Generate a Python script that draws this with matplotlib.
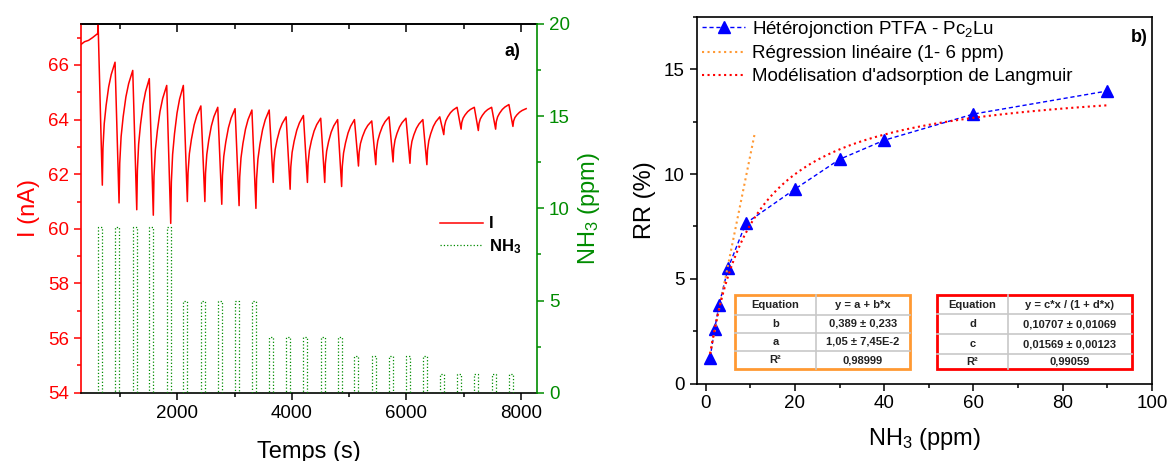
import matplotlib.pyplot as plt
import numpy as np
from matplotlib.lines import Line2D
from matplotlib.ticker import MultipleLocator

plt.rcParams['font.family'] = ['Liberation Sans', 'DejaVu Sans']
plt.rcParams['mathtext.fontset'] = 'custom'
plt.rcParams['mathtext.rm'] = 'Liberation Sans'
plt.rcParams['mathtext.it'] = 'Liberation Sans:italic'
plt.rcParams['mathtext.bf'] = 'Liberation Sans:bold'

# ---- a) current under NH3 pulses ----
# start of each NH3 pulse (s) and its concentration (ppm)
pulse_start = [621, 913, 1222, 1511, 1815, 2105, 2411, 2706, 3008, 3302,
               3604, 3899, 4201, 4503, 4798, 5092, 5394, 5696, 5991, 6286,
               6581, 6883, 7184, 7486, 7788]
pulse_ppm = [9, 9, 9, 9, 9, 5, 5, 5, 5, 5, 3, 3, 3, 3, 3,
             2, 2, 2, 2, 2, 1, 1, 1, 1, 1]
pulse_len = 70

# current just before each pulse and at the end of it (nA)
I_top = [67.2, 66.1, 65.8, 65.5, 65.25, 65.25, 64.5, 64.45, 64.4, 64.35,
         64.35, 64.1, 64.15, 64.05, 64.0, 64.0, 63.95, 64.1, 64.05, 64.0,
         64.1, 64.45, 64.45, 64.45, 64.55]
I_bottom = [61.6, 60.95, 60.7, 60.5, 60.2, 61.0, 61.0, 60.9, 60.85, 60.75,
            61.7, 61.45, 61.7, 61.7, 61.55, 62.3, 62.35, 62.45, 62.4, 62.35,
            63.45, 63.65, 63.6, 63.65, 63.75]
# before first pulse
t_before = [319, 380, 450, 520, 580, 610, 616]
I_before = [66.75, 66.85, 66.9, 67.0, 67.1, 67.15, 67.5]
t_end = 8089
I_end = 64.4
# recovery shape between pulses (fraction of time, fraction recovered)
rec_time = [0, 0.05, 0.15, 0.3, 0.5, 0.7, 0.85, 1.0]
rec_frac = [0, 0.3, 0.5, 0.65, 0.8, 0.9, 0.95, 1.0]

# ---- b) response vs concentration ----
conc = [1, 2, 3, 5, 9, 20, 30, 40, 60, 90]
rr = [1.24, 2.59, 3.74, 5.50, 7.65, 9.28, 10.70, 11.61, 12.86, 13.96]
lin_a = 0.389
lin_b = 1.05
lin_x = [1, 11]
lang_c = 0.01569
lang_d = 0.10707

lin_table = [['Equation', 'y = a + b*x'],
             ['b', '0,389 ± 0,233'],
             ['a', '1,05 ± 7,45E-2'],
             ['R²', '0,98999']]
lang_table = [['Equation', 'y = c*x / (1 + d*x)'],
              ['d', '0,10707 ± 0,01069'],
              ['c', '0,01569 ± 0,00123'],
              ['R²', '0,99059']]

RED = '#ff0000'
GREEN = '#008c00'
ORANGE = '#ff9933'

fig = plt.figure(figsize=(11.69, 4.61), dpi=100)

# build current trace
t_I = list(t_before)
I = list(I_before)
for k in range(len(pulse_start)):
    s = pulse_start[k]
    e = s + pulse_len
    t_I += [s, e]
    I += [I_top[k], I_bottom[k]]
    if k + 1 < len(pulse_start):
        nt, nI = pulse_start[k + 1], I_top[k + 1]
    else:
        nt, nI = t_end, I_end
    for f, r in zip(rec_time[1:-1], rec_frac[1:-1]):
        t_I.append(e + f * (nt - e))
        I.append(I_bottom[k] + r * (nI - I_bottom[k]))
t_I.append(t_end)
I.append(I_end)

# NH3 steps
t_N = [319]
c_N = [0]
for s, c in zip(pulse_start, pulse_ppm):
    t_N += [s, s, s + pulse_len, s + pulse_len]
    c_N += [0, c, c, 0]
t_N.append(8283)
c_N.append(0)

ax1 = fig.add_axes([0.0693, 0.148, 0.3903, 0.800])
ax2 = ax1.twinx()
ax1.plot(t_I, I, color=RED, lw=1.1, label='I')
ax2.plot(t_N, c_N, color=GREEN, lw=0.9, ls=':', label='NH$_\\mathregular{3}$')

ax1.set_xlim(319, 8283)
ax1.set_ylim(54, 67.5)
ax2.set_ylim(0, 20)
ax1.xaxis.set_major_locator(MultipleLocator(2000))
ax1.xaxis.set_minor_locator(MultipleLocator(1000))
ax1.yaxis.set_major_locator(MultipleLocator(2))
ax1.yaxis.set_minor_locator(MultipleLocator(1))
ax2.yaxis.set_major_locator(MultipleLocator(5))
ax2.yaxis.set_minor_locator(MultipleLocator(2.5))

ax1.spines['left'].set_color(RED)
ax1.spines['right'].set_visible(False)
ax2.spines['left'].set_visible(False)
ax2.spines['top'].set_visible(False)
ax2.spines['bottom'].set_visible(False)
ax2.spines['right'].set_color(GREEN)
for sp in ax1.spines.values():
    sp.set_linewidth(1.2)
ax2.spines['right'].set_linewidth(1.2)

ax1.tick_params(axis='y', which='both', colors=RED, labelsize=13.5, width=1.1)
ax1.tick_params(axis='y', which='major', length=5)
ax1.tick_params(axis='y', which='minor', length=3)
ax1.tick_params(axis='x', which='both', labelsize=13.5, width=1.1)
ax1.tick_params(axis='x', which='major', length=5)
ax1.tick_params(axis='x', which='minor', length=3)
ax2.tick_params(axis='y', which='both', colors=GREEN, labelsize=13.5, width=1.1)
ax2.tick_params(axis='y', which='major', length=5)
ax2.tick_params(axis='y', which='minor', length=3)

top = ax1.secondary_xaxis('top')
top.xaxis.set_major_locator(MultipleLocator(2000))
top.xaxis.set_minor_locator(MultipleLocator(1000))
top.tick_params(which='both', direction='in', labeltop=False, width=1.1)
top.tick_params(which='major', length=6)
top.tick_params(which='minor', length=3.5)
top.spines['top'].set_linewidth(1.2)

ax1.set_xlabel('Temps (s)', fontsize=17, labelpad=14)
ax1.set_ylabel('I (nA)', fontsize=17, color=RED, labelpad=6)
ax2.set_ylabel('NH$_\\mathregular{3}$ (ppm)', fontsize=17, color=GREEN, labelpad=4)

hnd = [Line2D([], [], color=RED, lw=1.1),
       Line2D([], [], color=GREEN, lw=0.9, ls=':')]
ax2.legend(hnd, ['I', 'NH$_\\mathregular{3}$'], loc='upper left',
           bbox_to_anchor=(0.787, 0.478), frameon=False, borderpad=0,
           borderaxespad=0, handlelength=2.6, handletextpad=0.35,
           labelspacing=0.35, prop={'weight': 'bold', 'size': 12})
ax1.text(0.945, 0.925, 'a)', transform=ax1.transAxes, ha='center',
         va='center', fontsize=13, fontweight='bold')

# ---- panel b ----
ax3 = fig.add_axes([0.596, 0.1677, 0.3895, 0.796])
ax3.plot(conc, rr, color='#0000ff', ls=(0, (3, 2)), lw=1.0, marker='^',
         markersize=8, label='Hétérojonction PTFA - Pc$_\\mathregular{2}$Lu')
ax3.plot(lin_x, [lin_a + lin_b * x for x in lin_x], color=ORANGE, ls=':',
         lw=1.5, label='Régression linéaire (1- 6 ppm)')
xl = np.linspace(1, 90, 200)
ax3.plot(xl, 100 * lang_c * xl / (1 + lang_d * xl), color=RED, ls=':',
         lw=1.5, label="Modélisation d'adsorption de Langmuir")
ax3.set_xlim(-2, 100)
ax3.set_ylim(0, 17.5)
ax3.xaxis.set_major_locator(MultipleLocator(20))
ax3.xaxis.set_minor_locator(MultipleLocator(10))
ax3.yaxis.set_major_locator(MultipleLocator(5))
ax3.yaxis.set_minor_locator(MultipleLocator(2.5))
ax3.tick_params(which='both', labelsize=13.5, width=1.1)
ax3.tick_params(which='major', length=5)
ax3.tick_params(which='minor', length=3)
for sp in ax3.spines.values():
    sp.set_linewidth(1.2)
ax3.set_xlabel('NH$_\\mathregular{3}$ (ppm)', fontsize=17, labelpad=10)
ax3.set_ylabel('RR (%)', fontsize=17, labelpad=6)
ax3.legend(loc='upper left', bbox_to_anchor=(0.012, 0.995), frameon=False,
           fontsize=13.5, handlelength=2.3, handletextpad=0.35,
           labelspacing=0.3, borderpad=0, borderaxespad=0)
ax3.text(0.971, 0.943, 'b)', transform=ax3.transAxes, ha='center',
         va='center', fontsize=13, fontweight='bold')


def draw_table(ax, x0, x1, xc, ys, cells, edge):
    # ys: row borders from top to bottom, axes fraction
    for k in range(1, len(ys) - 1):
        ax.plot([x0, x1], [ys[k], ys[k]], color='#c8c8c8', lw=1.2,
                transform=ax.transAxes, clip_on=False, zorder=4)
    ax.plot([xc, xc], [ys[0], ys[-1]], color='#c8c8c8', lw=1.2,
            transform=ax.transAxes, clip_on=False, zorder=4)
    ax.add_patch(plt.Rectangle((x0, ys[-1]), x1 - x0, ys[0] - ys[-1],
                               transform=ax.transAxes, facecolor='white',
                               edgecolor=edge, lw=2, zorder=3))
    for k, row in enumerate(cells):
        ym = (ys[k] + ys[k + 1]) / 2
        ax.text((x0 + xc) / 2, ym, row[0], transform=ax.transAxes,
                ha='center', va='center', fontsize=8, fontweight='bold',
                color='#222222', zorder=5)
        ax.text((xc + x1) / 2, ym, row[1], transform=ax.transAxes,
                ha='center', va='center', fontsize=8, fontweight='bold',
                color='#222222', zorder=5)


def fx(px):
    return (px - 696.7) / 455.3


def fy(py):
    return (383.7 - py) / 367.0


draw_table(ax3, fx(735), fx(910), fx(815.7),
           [fy(295), fy(315), fy(332.7), fy(351), fy(369.3)],
           lin_table, ORANGE)
draw_table(ax3, fx(937.3), fx(1131.7), fx(1007.7),
           [fy(295), fy(314.3), fy(334.3), fy(354), fy(369.3)],
           lang_table, RED)

fig.savefig('out.png', dpi=100)
